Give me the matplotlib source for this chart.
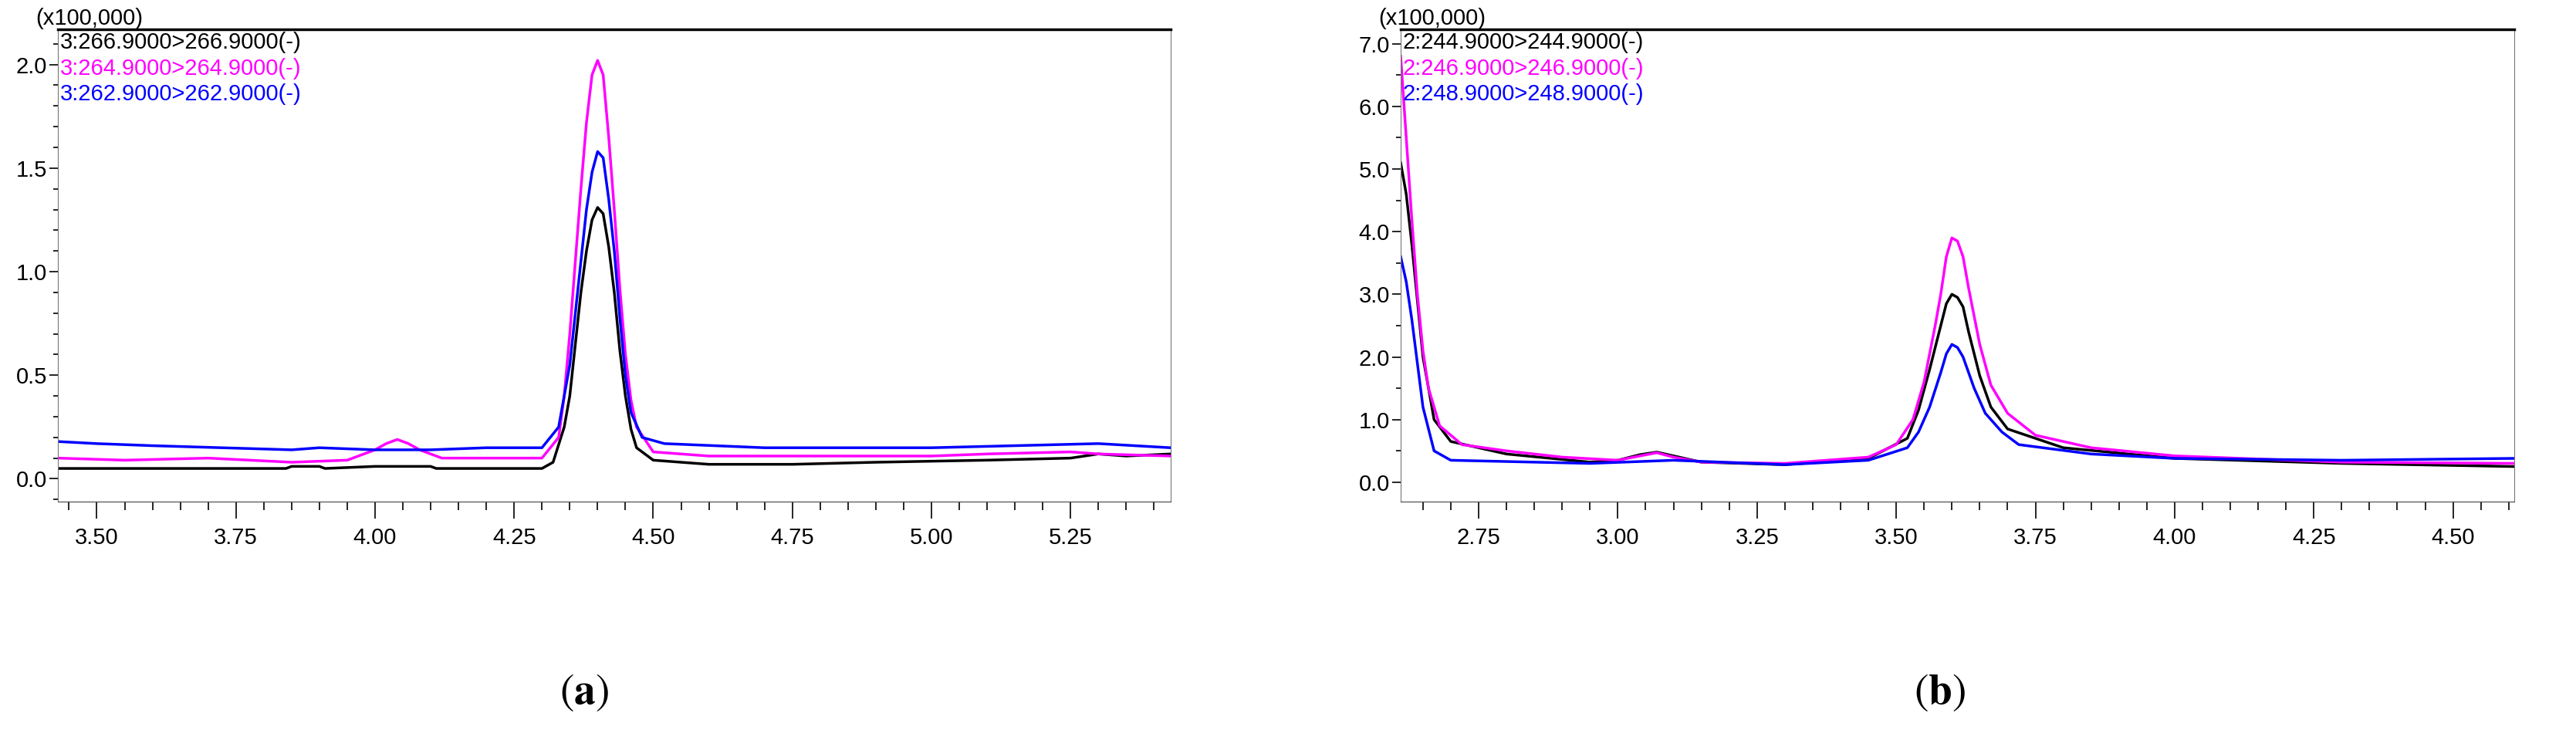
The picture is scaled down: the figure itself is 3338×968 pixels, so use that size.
import matplotlib
matplotlib.use("Agg")
import matplotlib.pyplot as plt
import numpy as np
from matplotlib.ticker import MultipleLocator, FormatStrFormatter

plt.rcParams['font.family'] = ['Liberation Sans', 'DejaVu Sans']
plt.rcParams['mathtext.fontset'] = 'stix'

# panel (a), intensity in units of 100,000
a_black_x = [3.43, 3.84, 3.85, 3.9, 3.91, 4.0, 4.1, 4.11, 4.30, 4.32, 4.34, 4.35, 4.36, 4.37, 4.38, 4.39, 4.40, 4.41, 4.42, 4.43, 4.44, 4.45, 4.46, 4.47, 4.50, 4.6, 4.75, 4.9, 5.1, 5.25, 5.3, 5.35, 5.43]
a_black_y = [0.05, 0.05, 0.06, 0.06, 0.05, 0.06, 0.06, 0.05, 0.05, 0.08, 0.25, 0.40, 0.65, 0.90, 1.10, 1.25, 1.31, 1.28, 1.12, 0.90, 0.62, 0.40, 0.24, 0.15, 0.09, 0.07, 0.07, 0.08, 0.09, 0.10, 0.12, 0.11, 0.12]
a_mag_x = [3.43, 3.55, 3.7, 3.85, 3.95, 4.0, 4.02, 4.04, 4.06, 4.08, 4.12, 4.30, 4.33, 4.34, 4.35, 4.36, 4.37, 4.38, 4.39, 4.40, 4.41, 4.42, 4.43, 4.44, 4.45, 4.46, 4.47, 4.50, 4.6, 5.0, 5.1, 5.25, 5.3, 5.43]
a_mag_y = [0.10, 0.09, 0.10, 0.08, 0.09, 0.14, 0.17, 0.19, 0.17, 0.14, 0.10, 0.10, 0.20, 0.40, 0.70, 1.05, 1.40, 1.72, 1.95, 2.02, 1.95, 1.65, 1.30, 0.92, 0.60, 0.38, 0.25, 0.13, 0.11, 0.11, 0.12, 0.13, 0.12, 0.11]
a_blue_x = [3.43, 3.5, 3.6, 3.85, 3.9, 4.0, 4.1, 4.2, 4.30, 4.33, 4.35, 4.36, 4.37, 4.38, 4.39, 4.40, 4.41, 4.42, 4.43, 4.44, 4.45, 4.46, 4.48, 4.52, 4.7, 5.0, 5.3, 5.43]
a_blue_y = [0.18, 0.17, 0.16, 0.14, 0.15, 0.14, 0.14, 0.15, 0.15, 0.25, 0.55, 0.80, 1.05, 1.30, 1.48, 1.58, 1.55, 1.35, 1.10, 0.78, 0.50, 0.32, 0.20, 0.17, 0.15, 0.15, 0.17, 0.15]

# panel (b)
b_mag_x = [2.61, 2.62, 2.63, 2.64, 2.65, 2.66, 2.68, 2.72, 2.8, 2.9, 3.0, 3.04, 3.07, 3.10, 3.15, 3.3, 3.45, 3.5, 3.53, 3.55, 3.57, 3.58, 3.59, 3.60, 3.61, 3.62, 3.63, 3.65, 3.67, 3.7, 3.75, 3.85, 4.0, 4.3, 4.61]
b_mag_y = [6.8, 5.5, 4.2, 3.0, 2.1, 1.5, 0.9, 0.6, 0.5, 0.4, 0.35, 0.42, 0.47, 0.40, 0.32, 0.30, 0.40, 0.60, 1.0, 1.6, 2.5, 3.0, 3.6, 3.9, 3.85, 3.6, 3.1, 2.2, 1.55, 1.1, 0.75, 0.55, 0.42, 0.32, 0.30]
b_black_x = [2.61, 2.62, 2.63, 2.64, 2.65, 2.67, 2.7, 2.8, 2.95, 3.0, 3.04, 3.07, 3.10, 3.15, 3.3, 3.45, 3.52, 3.54, 3.56, 3.58, 3.59, 3.60, 3.61, 3.62, 3.63, 3.65, 3.67, 3.7, 3.8, 4.0, 4.3, 4.61]
b_black_y = [5.1, 4.6, 3.8, 2.9, 2.0, 1.0, 0.65, 0.45, 0.32, 0.35, 0.44, 0.48, 0.42, 0.32, 0.28, 0.38, 0.70, 1.15, 1.8, 2.5, 2.85, 3.0, 2.95, 2.8, 2.4, 1.7, 1.2, 0.85, 0.55, 0.38, 0.30, 0.25]
b_blue_x = [2.61, 2.62, 2.63, 2.64, 2.65, 2.67, 2.7, 2.8, 2.95, 3.1, 3.3, 3.45, 3.52, 3.54, 3.56, 3.58, 3.59, 3.60, 3.61, 3.62, 3.64, 3.66, 3.69, 3.72, 3.85, 4.0, 4.3, 4.61]
b_blue_y = [3.6, 3.2, 2.6, 1.9, 1.2, 0.5, 0.35, 0.33, 0.30, 0.35, 0.28, 0.35, 0.55, 0.80, 1.2, 1.75, 2.05, 2.2, 2.15, 2.0, 1.5, 1.1, 0.8, 0.6, 0.45, 0.38, 0.35, 0.38]

a_labels = ['3:266.9000>266.9000(-)', '3:264.9000>264.9000(-)', '3:262.9000>262.9000(-)']
b_labels = ['2:244.9000>244.9000(-)', '2:246.9000>246.9000(-)', '2:248.9000>248.9000(-)']
colors = ['black', '#ff00ff', '#0000ff']

fig = plt.figure(figsize=(33.38, 9.68), dpi=100)
ax1 = fig.add_axes([75/3338, 1-650/968, 1442/3338, 612/968])
ax2 = fig.add_axes([1815/3338, 1-650/968, 1443/3338, 612/968])

def style(ax, xlim, ylim, ymaj, ymin):
    ax.set_xlim(*xlim)
    ax.set_ylim(*ylim)
    ax.xaxis.set_major_locator(MultipleLocator(0.25))
    ax.xaxis.set_minor_locator(MultipleLocator(0.05))
    ax.xaxis.set_major_formatter(FormatStrFormatter('%.2f'))
    ax.yaxis.set_major_locator(MultipleLocator(ymaj))
    ax.yaxis.set_minor_locator(MultipleLocator(ymin))
    ax.yaxis.set_major_formatter(FormatStrFormatter('%.1f'))
    ax.tick_params(axis='x', which='major', direction='out', length=16, width=1.2, labelsize=21, pad=8)
    ax.tick_params(axis='x', which='minor', direction='out', length=8, width=1.2)
    ax.tick_params(axis='y', which='major', direction='out', length=8, width=1.2, labelsize=21, pad=2)
    ax.tick_params(axis='y', which='minor', direction='out', length=4, width=1.2)
    for s in ['left', 'right']:
        ax.spines[s].set_color('#777777')
    ax.spines['bottom'].set_color('#444444')
    ax.spines['top'].set_linewidth(2.5)
    ax.text(-0.02, 1.0, '(x100,000)', transform=ax.transAxes, fontsize=21, va='bottom', ha='left')

def draw(ax, series, labels):
    for (x, y), c in zip(series, colors):
        ax.plot(x, y, color=c, lw=2.5)
    for i, (lab, c) in enumerate(zip(labels, colors)):
        ax.text(0.002, 0.995 - i*0.055, lab, color=c, transform=ax.transAxes, fontsize=21, va='top', ha='left')

draw(ax1, [(a_black_x, a_black_y), (a_mag_x, a_mag_y), (a_blue_x, a_blue_y)], a_labels)
style(ax1, (3.43, 5.43), (-0.11, 2.17), 0.5, 0.1)
draw(ax2, [(b_black_x, b_black_y), (b_mag_x, b_mag_y), (b_blue_x, b_blue_y)], b_labels)
style(ax2, (2.61, 4.61), (-0.31, 7.23), 1.0, 0.5)

fig.text(757/3338, 1-897/968, r'($\mathbf{a}$)', fontsize=40, family='STIXGeneral', ha='center', va='center')
fig.text(2514/3338, 1-897/968, r'($\mathbf{b}$)', fontsize=40, family='STIXGeneral', ha='center', va='center')

fig.savefig('out.png', dpi=100)
